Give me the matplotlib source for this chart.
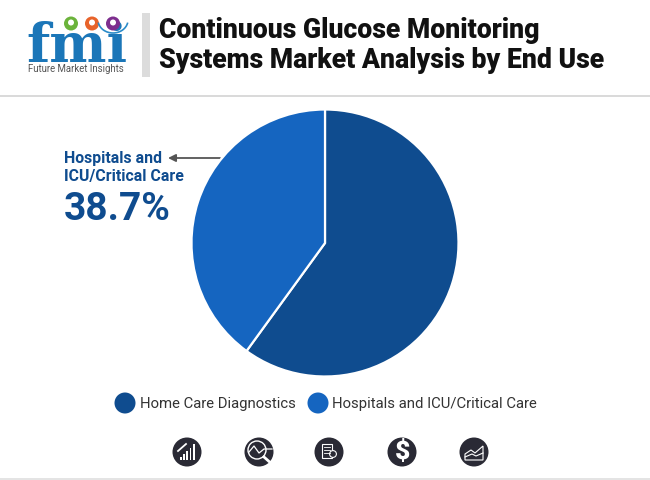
import matplotlib
matplotlib.use("Agg")
import matplotlib.pyplot as plt
from matplotlib.patches import Circle, Rectangle, Arc, Polygon

categories = ["Home Care Diagnostics", "Hospitals and ICU/Critical Care"]
values = [60.0, 40.0]
colors = ["#0F4C8F", "#1565C0"]
title_lines = ["Continuous Glucose Monitoring", "Systems Market Analysis by End Use"]
callout_lines = ["Hospitals and", "ICU/Critical Care"]
callout_value = "38.7%"

plt.rcParams["font.family"] = ["Roboto", "DejaVu Sans"]
fig = plt.figure(figsize=(6.5, 4.8), dpi=100)
bg = fig.add_axes([0, 0, 1, 1])
bg.set_xlim(0, 650); bg.set_ylim(480, 0); bg.axis("off")

# header
bg.add_patch(Rectangle((142, 13), 8, 64, color="#DCDCDC", lw=0))
bg.add_patch(Rectangle((0, 95), 650, 1.6, color="#DADADA", lw=0))
bg.add_patch(Rectangle((0, 477.5), 650, 2.5, color="#E4E4E4", lw=0))
bg.text(159, 31, title_lines[0], fontsize=19.15, fontweight="black", color="#111111", va="center")
bg.text(159, 60, title_lines[1], fontsize=19.15, fontweight="black", color="#111111", va="center")

# logo
bg.text(77, 62, "fmi", fontsize=39, fontweight="bold", family="DejaVu Serif", color="#1B76B8",
        ha="center", va="baseline")
for y in range(24, 63, 4):
    bg.plot([24, 130], [y, y], color="white", lw=0.9)
for x, c in [(71, "#6BB33B"), (92, "#E8632A"), (113, "#7D2E8E")]:
    bg.add_patch(Circle((x, 23.5), 7, color=c, lw=0, zorder=3))
    bg.add_patch(Circle((x, 22.5), 3, color="white", lw=0, zorder=4))
bg.add_patch(Arc((113, 20), 30, 26, theta1=10, theta2=170, color="#2A8BC9", lw=1.2, zorder=3))
bg.text(76, 68.5, "Future Market Insights", fontsize=6.9, color="#555555", ha="center", va="center")

# pie
ax = fig.add_axes([(325 - 133.5) / 650, 1 - (243 + 133.5) / 480, 267 / 650, 267 / 480])
ax.pie(values, colors=colors, startangle=90, counterclock=False, radius=1,
       wedgeprops=dict(edgecolor="white", linewidth=1.6))
ax.set_xlim(-1, 1); ax.set_ylim(-1, 1)

# callout
bg.text(64, 158, callout_lines[0], fontsize=11.4, fontweight="bold", color="#0F4C8F", va="center")
bg.text(64, 177, callout_lines[1], fontsize=11.4, fontweight="bold", color="#0F4C8F", va="center")
bg.text(64, 209, callout_value, fontsize=28, fontweight="bold", color="#0F4C8F", va="center")
bg.annotate("", xy=(168, 158), xytext=(220, 158),
            arrowprops=dict(arrowstyle="-|>", color="#555555", lw=1.3, shrinkA=0, shrinkB=0, mutation_scale=11))

# legend
for cx, c, lab, tx in [(125, colors[0], categories[0], 140), (318, colors[1], categories[1], 332)]:
    bg.add_patch(Circle((cx, 403), 10.5, color=c, lw=0))
    bg.text(tx, 404, lab, fontsize=10.7, color="#333333", va="center")

# icons
ic = "#2A2A35"
for cx in [187, 259, 329, 402, 474]:
    bg.add_patch(Circle((cx, 452), 14.5, color=ic, lw=0))
# bars icon
for i, h in enumerate([3, 6, 9, 12, 16]):
    bg.add_patch(Rectangle((180 + i * 3.2, 460 - h), 1.7, h, color="white", lw=0))
bg.plot([178, 186], [451, 444], color="white", lw=1.3)
# magnifier chart icon
bg.add_patch(Circle((257, 450), 9, fill=False, ec="white", lw=1))
bg.plot([249, 254, 259, 264, 272], [452, 446, 453, 449, 449], color="white", lw=0.9)
bg.plot([264, 273], [457, 465], color="white", lw=2)
# document icon
bg.add_patch(Rectangle((322, 444), 10, 14, fill=False, ec="white", lw=0.8))
for y in [447, 450, 453]:
    bg.plot([324, 330], [y, y], color="white", lw=0.6)
bg.add_patch(Circle((333, 454), 3.4, fc=ic, ec="white", lw=0.8))
# dollar
bg.text(402, 452, "$", fontsize=19, fontweight="black", color="white", ha="center", va="center")
# area icon
bg.add_patch(Polygon([(465, 460), (465, 454), (471, 450), (475, 453), (483, 446), (483, 460)],
                     closed=True, fill=False, ec="white", lw=0.8))
bg.plot([465, 472, 476, 483], [457, 454, 456, 453], color="white", lw=0.8)

fig.savefig("out.png", dpi=100)
